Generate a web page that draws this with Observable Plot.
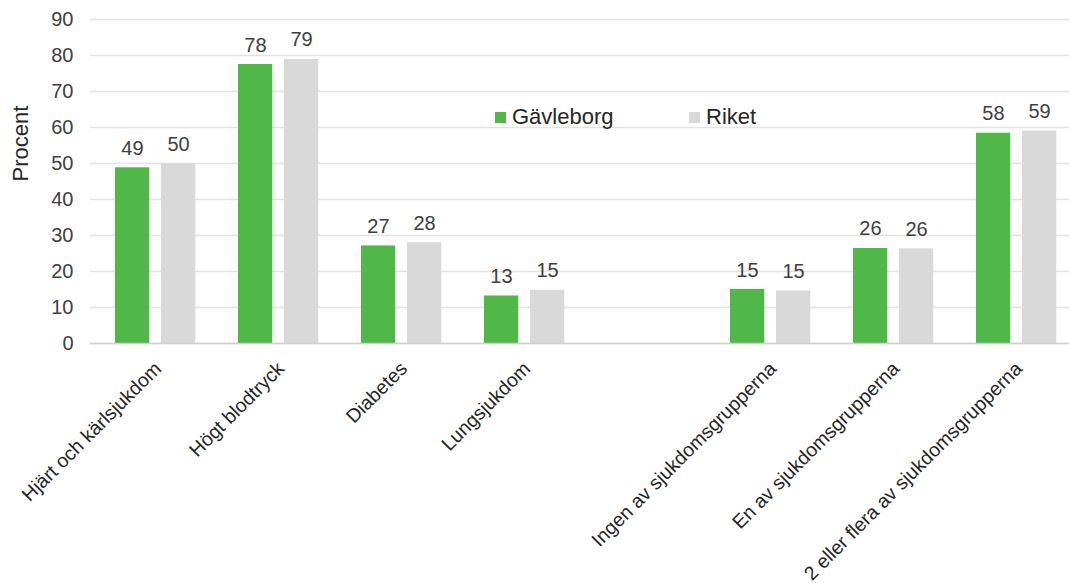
<!DOCTYPE html>
<html>
<head>
<meta charset="utf-8">
<script src="https://cdn.jsdelivr.net/npm/d3@7"></script>
<script src="https://cdn.jsdelivr.net/npm/@observablehq/plot@0.6"></script>
<style>
  html, body { margin: 0; padding: 0; background: #fff; overflow: hidden; }
  #wrap { position: relative; width: 1069px; height: 583px; font-family: "Liberation Sans", Arial, sans-serif; }
  .leg { position: absolute; display: flex; align-items: center; font-size: 22px; color: #262626; white-space: nowrap; }
  .leg .sw { width: 11px; height: 11px; margin-right: 6px; }
</style>
</head>
<body>
<div id="wrap"></div>
<script>
const categories = [
  "Hjärt och kärlsjukdom",
  "Högt blodtryck",
  "Diabetes",
  "Lungsjukdom",
  " ",
  "Ingen av sjukdomsgrupperna",
  "En av sjukdomsgrupperna",
  "2 eller flera av sjukdomsgrupperna"
];
const series = ["Gävleborg", "Riket"];
const gavleborg = [48.8, 77.5, 27.1, 13.2, null, 15.0, 26.4, 58.4];
const riket     = [49.9, 78.9, 28.0, 14.8, null, 14.6, 26.3, 59.0];
const seriesColors = ["#50b848", "#d9d9d9"];
const yTicks = [0, 10, 20, 30, 40, 50, 60, 70, 80, 90];
const yLabel = "Procent";

const rows = [];
categories.forEach((c, i) => {
  if (gavleborg[i] != null) rows.push({cat: c, series: series[0], value: gavleborg[i]});
  if (riket[i] != null) rows.push({cat: c, series: series[1], value: riket[i]});
});
const g = rows.filter(d => d.series === series[0]);
const r = rows.filter(d => d.series === series[1]);

const font = "Liberation Sans, Arial, sans-serif";
const textColor = "#404040";

const chart = Plot.plot({
  width: 1069,
  height: 583,
  marginLeft: 90,
  marginRight: 0,
  marginTop: 19,
  marginBottom: 240,
  style: {fontFamily: font, fontSize: "20px", color: textColor, background: "#fff", overflow: "visible"},
  x: {type: "band", domain: categories, range: [90, 1080], padding: 0},
  y: {domain: [0, 90]},
  marks: [
    Plot.gridY(yTicks, {stroke: "#e3e3e3", strokeOpacity: 1, strokeWidth: 1.3}),
    Plot.barY(g, {x: "cat", y: "value", fill: seriesColors[0], insetLeft: 22, insetRight: 66.75}),
    Plot.barY(r, {x: "cat", y: "value", fill: seriesColors[1], insetLeft: 68, insetRight: 20.75}),
    Plot.ruleY([0], {stroke: "#d0d0d0", strokeWidth: 1.3}),
    Plot.text(g, {x: "cat", y: "value", text: d => d3.format(".0f")(d.value), dx: -22.6, dy: -13, lineAnchor: "bottom", fill: textColor, fontSize: 20}),
    Plot.text(r, {x: "cat", y: "value", text: d => d3.format(".0f")(d.value), dx: 23.6, dy: -13, lineAnchor: "bottom", fill: textColor, fontSize: 20}),
    Plot.axisY(yTicks, {tickSize: 0, tickPadding: 17, fontSize: 20, fill: textColor, label: null}),
    Plot.text([yLabel], {text: d => d, frameAnchor: "left", dx: -70, rotate: -90, fontSize: 22, fill: "#262626"}),
    Plot.axisX({tickSize: 0, tickRotate: -45, tickPadding: 22, dx: 3, fontSize: 19.5, fill: "#262626", label: null})
  ]
});

const wrap = document.getElementById("wrap");
wrap.appendChild(chart);

const legendLefts = [495, 689];
series.forEach((s, i) => {
  const item = document.createElement("div");
  item.className = "leg";
  item.style.left = legendLefts[i] + "px";
  item.style.top = "104px";
  item.innerHTML = `<span class="sw" style="background:${seriesColors[i]}"></span><span>${s}</span>`;
  wrap.appendChild(item);
});
</script>
</body>
</html>
